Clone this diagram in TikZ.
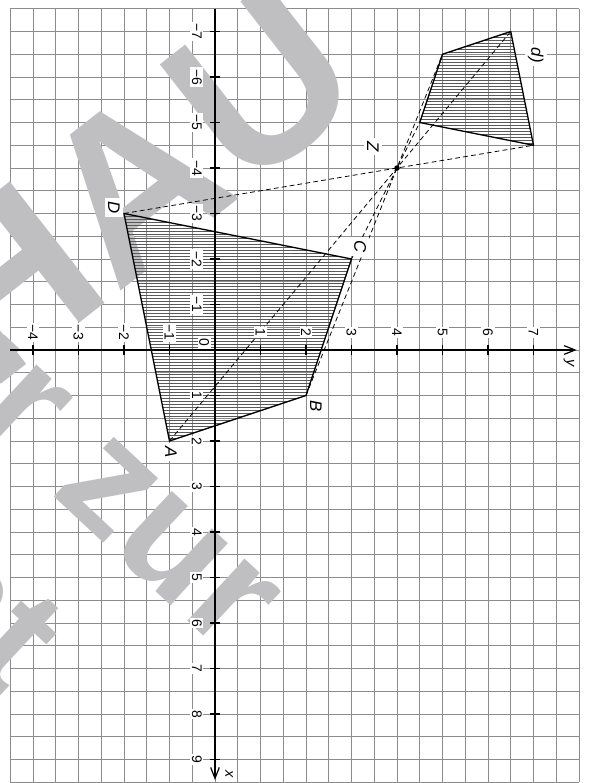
\documentclass[tikz,border=0pt]{standalone}
\usepackage{fontspec}
\setmainfont{Liberation Sans}
\usetikzlibrary{arrows.meta}
\definecolor{wm}{RGB}{191,191,194}
\definecolor{gridc}{RGB}{140,140,140}
\newcommand\mylbl[1]{\ifnum#1<0 −\number\numexpr0-(#1)\relax\else#1\fi}
\begin{document}
\begin{tikzpicture}[
  gridline/.style={draw=gridc, line width=0.6pt},
  axisline/.style={line width=0.75pt, -{Straight Barb[length=2.4mm,width=1.9mm]}},
  tickmark/.style={line width=0.7pt},
  ticklab/.style={font=\fontsize{8.7}{10}\selectfont, inner sep=1pt, fill=white, transform shape},
  ptlab/.style={font=\fontsize{10.5}{12}\selectfont\itshape, inner sep=2pt, fill=white, transform shape},
  poly/.style={line width=0.8pt, line join=round},
  ray/.style={line width=0.5pt, dash pattern=on 3pt off 2pt},
  hatch/.style={line width=0.3pt, draw=black!65},
  wmtext/.style={text=wm, inner sep=0pt},
]
\useasboundingbox (-4.7253,-9.5165) rectangle (8.2637,7.6923);
\clip (-4.7253,-9.5165) rectangle (8.2637,7.6923);

% grid
\begin{scope}[rotate=-90]
  \foreach \i in {0,...,34} \draw[gridline] ({-7.5+\i/2},-4.5) -- ({-7.5+\i/2},8);
  \foreach \j in {0,...,25} \draw[gridline] (-7.5,{-4.5+\j/2}) -- (9.5,{-4.5+\j/2});
\end{scope}

% watermark
\begin{scope}[x=0.021978cm, y=-0.021978cm, shift={(-215,-350)}]
  \node[wmtext, rotate=-43, anchor=base, font=\fontsize{100}{110}\selectfont\bfseries] (wm1) at (20,465) {Nur zur};
  \node[wmtext, rotate=-43, anchor=base east, font=\fontsize{100}{110}\selectfont\bfseries] (wm2) at (2,698) {Ansicht};
  \node[wmtext, rotate=38, anchor=base east, font=\fontsize{140}{150}\selectfont\bfseries] (wm3) at (372,95) {VORSCHAU};
\end{scope}

% diagram
\begin{scope}[rotate=-90]
  \coordinate (A) at (2,-1);
  \coordinate (B) at (1,2);
  \coordinate (C) at (-2,3);
  \coordinate (D) at (-3,-2);
  \coordinate (Z) at (-4,4);
  \coordinate (A1) at (-7,6.5);
  \coordinate (B1) at (-6.5,5);
  \coordinate (C1) at (-5,4.5);
  \coordinate (D1) at (-4.5,7);

  \begin{scope}
    \clip (A) -- (B) -- (C) -- (D) -- cycle;
    \foreach \i in {0,...,75} \draw[hatch] ({-3+\i/15},-3) -- ({-3+\i/15},4);
  \end{scope}
  \begin{scope}
    \clip (A1) -- (B1) -- (C1) -- (D1) -- cycle;
    \foreach \i in {0,...,38} \draw[hatch] ({-7+\i/15},4) -- ({-7+\i/15},8);
  \end{scope}

  \draw[ray] (A) -- (A1);
  \draw[ray] (B) -- (B1);
  \draw[ray] (C) -- (C1);
  \draw[ray] (D) -- (D1);

  \draw[poly] (A) -- (B) -- (C) -- (D) -- cycle;
  \draw[poly] (A1) -- (B1) -- (C1) -- (D1) -- cycle;

  \coordinate (xs) at (-7.5,0);
  \coordinate (xe) at (9.45,0);
  \coordinate (ys) at (0,-4.5);
  \coordinate (ye) at (0,7.95);
  \draw[axisline] (xs) -- (xe);
  \draw[axisline] (ys) -- (ye);

  \foreach \k in {-7,...,-1,1,2,...,9} {
    \draw[tickmark] (\k,-0.11) -- (\k,0.11);
    \node[ticklab] (xt\k) at (\k,-0.4) {\mylbl{\k}};
  }
  \foreach \k in {-4,...,-1,1,2,...,7} {
    \draw[tickmark] (-0.11,\k) -- (0.11,\k);
    \node[ticklab] (yt\k) at (-0.39,\k) {\mylbl{\k}};
  }
  \node[ticklab] (o) at (-0.16,-0.24) {0};

  \fill (Z) circle (0.06);

  \node[ptlab] (lA) at (2.24,-0.97) {A};
  \node[ptlab] (lB) at (1.23,2.22) {B};
  \node[ptlab] (lC) at (-2.27,3.19) {C};
  \node[ptlab] (lD) at (-3.13,-2.22) {D};
  \node[ptlab] (lZ) at (-4.47,3.47) {Z};
  \node[ptlab] (ld) at (-6.48,7.05) {d)};
  \node[ptlab, font=\fontsize{9}{10}\selectfont\itshape, fill=none] (lx) at (9.32,0.31) {x};
  \node[ptlab, font=\fontsize{9}{10}\selectfont\itshape, fill=none] (ly) at (0.29,7.78) {y};
\end{scope}
\end{tikzpicture}
\end{document}
